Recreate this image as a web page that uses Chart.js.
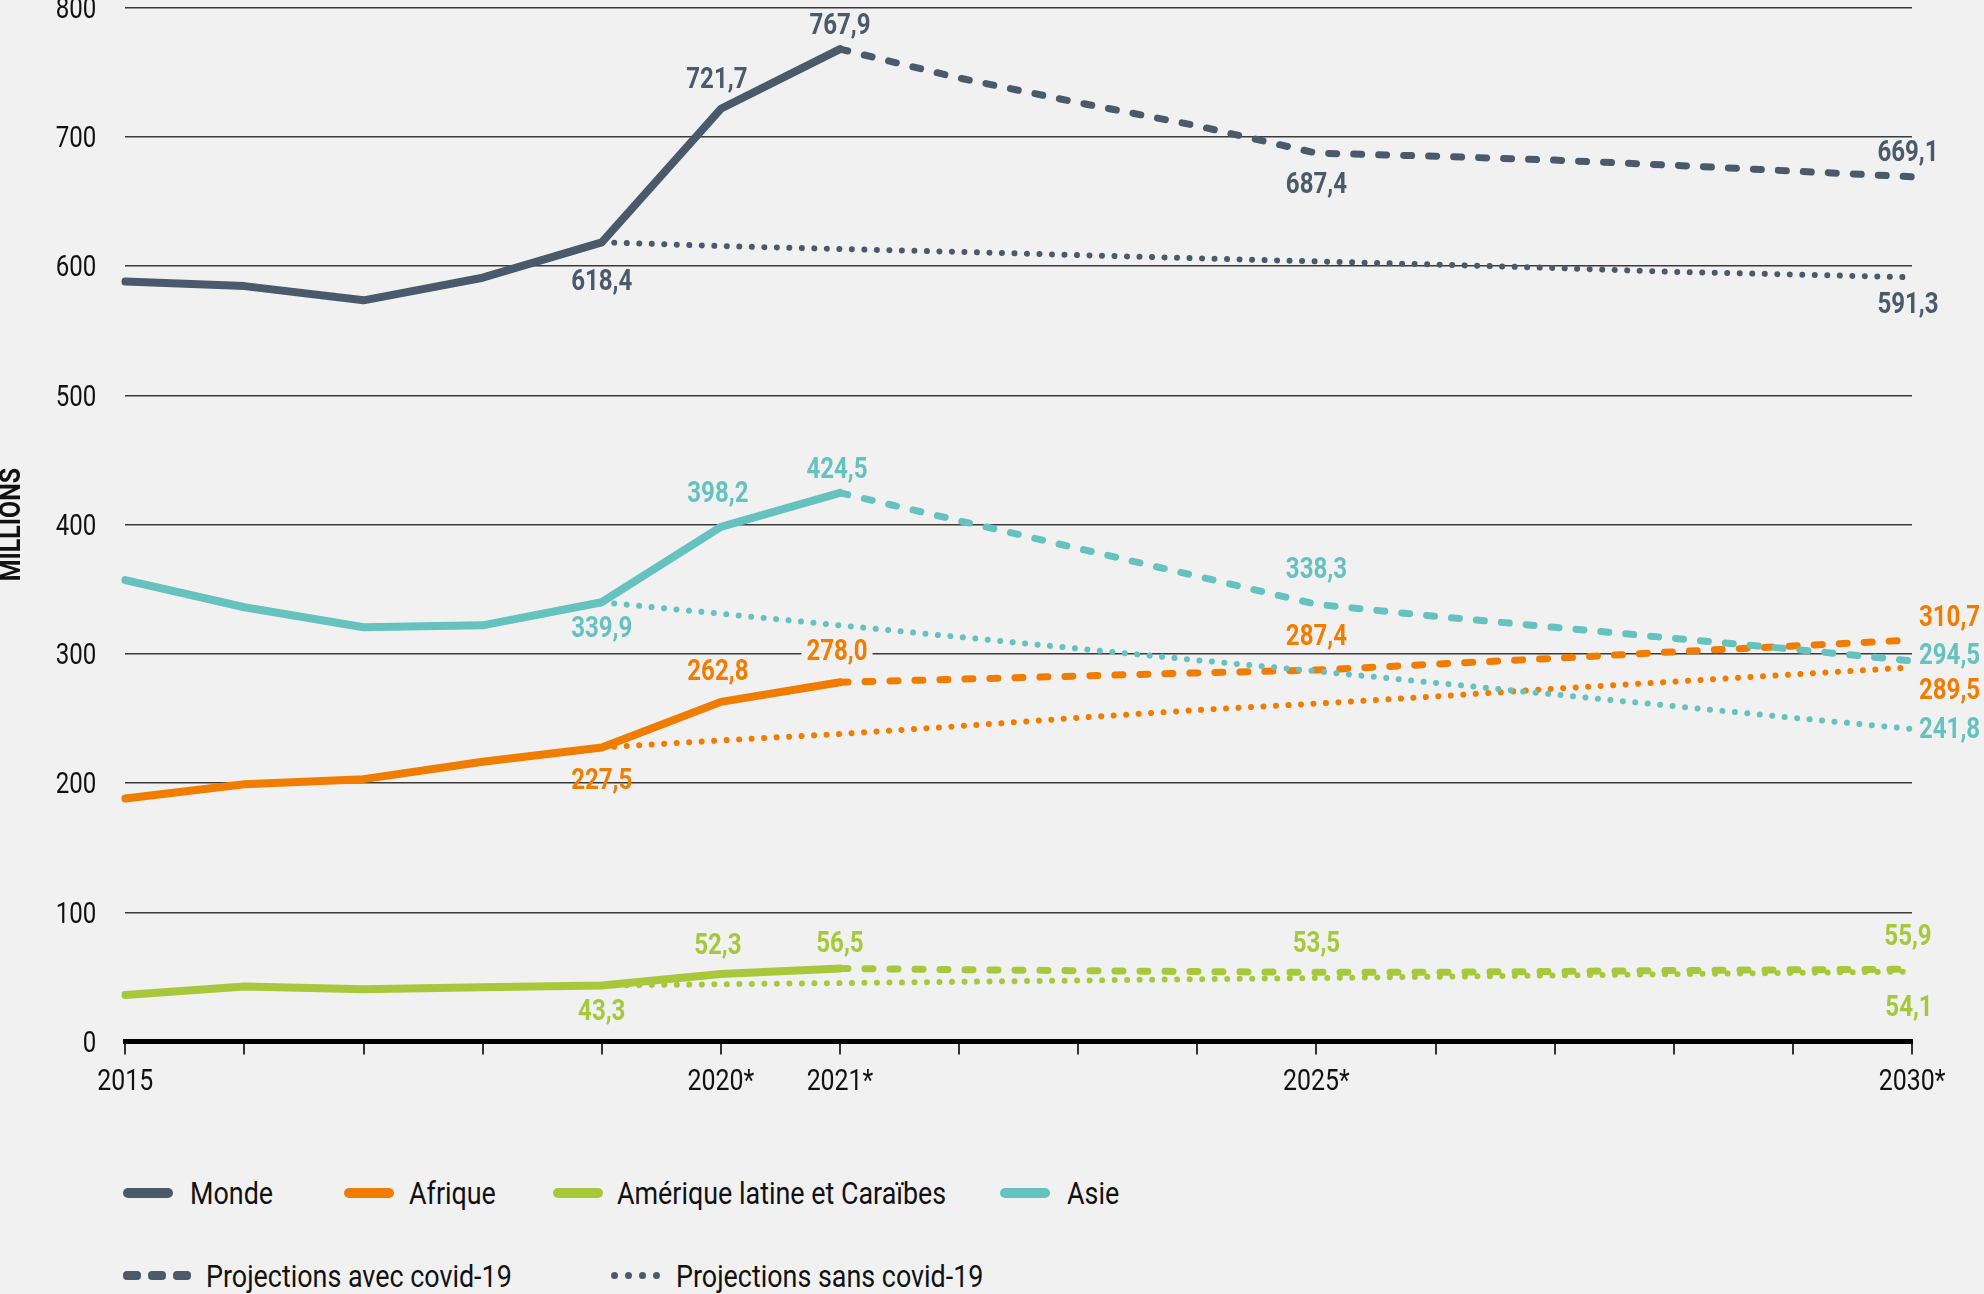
<!DOCTYPE html>
<html>
<head>
<meta charset="utf-8">
<script src="https://cdn.jsdelivr.net/npm/chart.js@4.4.1/dist/chart.umd.min.js"></script>
<style>
html,body{margin:0;padding:0;background:#f1f1f1;width:1984px;height:1294px;overflow:hidden;
  font-family:Roboto,"Liberation Sans",sans-serif;color:#111;}
#wrap{position:absolute;left:0;top:-30px;width:1984px;height:1150px;}
.lg{position:absolute;font-size:32px;line-height:32px;white-space:nowrap;color:#111;transform:scaleX(0.84);transform-origin:0 50%;}
.sw{position:absolute;height:10px;border-radius:5px;}
.dash{position:absolute;height:9px;width:18px;border-radius:4px;background:#4b5a6b;}
.dot{position:absolute;height:7px;width:7px;border-radius:50%;background:#4b5a6b;}
</style>
</head>
<body>
<div id="wrap"><canvas id="c" width="1984" height="1150"></canvas></div>

<div class="sw" style="left:123px;top:1188px;width:50px;background:#4b5a6b"></div>
<div class="lg" style="left:190px;top:1177px">Monde</div>
<div class="sw" style="left:344px;top:1188px;width:50px;background:#f07d00"></div>
<div class="lg" style="left:409px;top:1177px">Afrique</div>
<div class="sw" style="left:553px;top:1188px;width:50px;background:#a9c73a"></div>
<div class="lg" style="left:617px;top:1177px">Amérique latine et Caraïbes</div>
<div class="sw" style="left:1000px;top:1188px;width:50px;background:#66c2be"></div>
<div class="lg" style="left:1067px;top:1177px">Asie</div>

<div class="dash" style="left:123px;top:1271px"></div>
<div class="dash" style="left:148px;top:1271px"></div>
<div class="dash" style="left:173px;top:1271px"></div>
<div class="lg" style="left:206px;top:1260px">Projections avec covid-19</div>
<div class="dot" style="left:611px;top:1272px"></div>
<div class="dot" style="left:625px;top:1272px"></div>
<div class="dot" style="left:639px;top:1272px"></div>
<div class="dot" style="left:653px;top:1272px"></div>
<div class="lg" style="left:676px;top:1260px">Projections sans covid-19</div>

<script>
// ---------- DATA ----------
const years = [2015,2016,2017,2018,2019,2020,2021,2022,2023,2024,2025,2026,2027,2028,2029,2030];
const xTickLabels = ['2015','','','','','2020*','2021*','','','','2025*','','','','','2030*'];
const yTickValues = [0,100,200,300,400,500,600,700,800];

// historical 2015-2021
const mondeHist   = [588, 584.5, 573.5, 591, 618.4, 721.7, 767.9];
const afriqueHist = [188, 199, 203, 216.5, 227.5, 262.8, 278.0];
const amlatHist   = [36, 42.5, 40.5, 42, 43.3, 52.3, 56.5];
const asieHist    = [357, 336, 320.5, 322, 339.9, 398.2, 424.5];

// projections avec covid-19, 2021-2030
const mondeAvec   = [767.9, 745.5, 726.5, 708.5, 687.4, 685, 682, 678, 673.5, 669.1];
const afriqueAvec = [278.0, 280.3, 282.8, 285.2, 287.4, 292, 296.5, 301.5, 306, 310.7];
const amlatAvec   = [56.5, 55.6, 54.8, 54.1, 53.5, 53.6, 54.2, 54.9, 55.5, 55.9];
const asieAvec    = [424.5, 403, 381.5, 360, 338.3, 329, 320.5, 312, 303.5, 294.5];

// projections sans covid-19, 2019-2030
const mondeSans   = [618.4, 615.5, 613.2, 611, 608.5, 606, 603.6, 601.2, 598.5, 595.5, 593.5, 591.3];
const afriqueSans = [227.5, 233, 238, 244, 250.5, 256.5, 261.5, 267, 273, 278.5, 284, 289.5];
const amlatSans   = [43.3, 44.3, 45.2, 46.2, 47.2, 48.2, 49.1, 50.1, 51.1, 52.1, 53.1, 54.1];
const asieSans    = [339.9, 331, 322, 313, 304, 295, 286.5, 277.5, 268.5, 259.5, 250.5, 241.8];

// ---------- STYLE ----------
const FONT = 'Roboto,"Liberation Sans",sans-serif';
const SX = 0.83; // horizontal condensing of canvas text
const COL = {monde:'#4b5a6b', afrique:'#f07d00', amlat:'#a9c73a', asie:'#66c2be'};

const n = years.length;
function hist(a){ return a.concat(Array(n - a.length).fill(null)); }
function tail(a){ return Array(n - a.length).fill(null).concat(a); }

function solid(col, data){ return {data:hist(data), borderColor:col, borderWidth:8, borderCapStyle:'round', borderJoinStyle:'round', pointRadius:0, fill:false, tension:0}; }
function dashed(col, data){ return {data:tail(data), borderColor:col, borderWidth:7, borderDash:[8,17], borderCapStyle:'round', borderJoinStyle:'round', pointRadius:0, fill:false, tension:0}; }
function dotted(col, data){ return {data:tail(data), borderColor:col, borderWidth:6, borderDash:[0.01,12.5], borderCapStyle:'round', borderJoinStyle:'round', pointRadius:0, fill:false, tension:0}; }

const datasets = [
  solid(COL.monde, mondeHist),      // 0
  dashed(COL.monde, mondeAvec),     // 1
  dotted(COL.monde, mondeSans),     // 2
  solid(COL.asie, asieHist),        // 3
  dashed(COL.asie, asieAvec),       // 4
  dotted(COL.asie, asieSans),       // 5
  solid(COL.afrique, afriqueHist),  // 6
  dashed(COL.afrique, afriqueAvec), // 7
  dotted(COL.afrique, afriqueSans), // 8
  solid(COL.amlat, amlatHist),      // 9
  dashed(COL.amlat, amlatAvec),     // 10
  dotted(COL.amlat, amlatSans)      // 11
];

// which points get a value label, and where (offsets in px)
const labelSpecs = [
  {ds:0, year:2019, dx:0, dy:40}, {ds:0, year:2020, dx:-4, dy:-28}, {ds:0, year:2021, dx:0, dy:-22},
  {ds:1, year:2025, dx:0, dy:33}, {ds:1, year:2030, dx:-4, dy:-23}, {ds:2, year:2030, dx:-4, dy:28},
  {ds:3, year:2019, dx:0, dy:28}, {ds:3, year:2020, dx:-3, dy:-32}, {ds:3, year:2021, dx:-3, dy:-22},
  {ds:4, year:2025, dx:0, dy:-34}, {ds:4, year:2030, dx:7, dy:-4, align:'left'}, {ds:5, year:2030, dx:7, dy:2, align:'left'},
  {ds:6, year:2019, dx:0, dy:34}, {ds:6, year:2020, dx:-3, dy:-29}, {ds:6, year:2021, dx:-3, dy:-29, bg:true},
  {ds:7, year:2025, dx:0, dy:-32}, {ds:7, year:2030, dx:7, dy:-21, align:'left'}, {ds:8, year:2030, dx:7, dy:24, align:'left'},
  {ds:9, year:2019, dx:0, dy:27}, {ds:9, year:2020, dx:-3, dy:-27}, {ds:9, year:2021, dx:0, dy:-24},
  {ds:10, year:2025, dx:0, dy:-28}, {ds:10, year:2030, dx:-4, dy:-32}, {ds:11, year:2030, dx:-3, dy:37}
];

const valueLabels = {
  id:'valueLabels',
  afterDatasetsDraw(chart){
    const ctx = chart.ctx, xs = chart.scales.x, ys = chart.scales.y;
    ctx.save();
    ctx.font = 'bold 29px ' + FONT;
    ctx.textBaseline = 'middle';
    for (const L of labelSpecs){
      const ds = chart.data.datasets[L.ds];
      const i = years.indexOf(L.year);
      const v = ds.data[i];
      const x = xs.getPixelForValue(i) + L.dx;
      const y = ys.getPixelForValue(v) + L.dy;
      const txt = v.toFixed(1).replace('.', ',');
      ctx.textAlign = L.align || 'center';
      if (L.bg){
        const w = ctx.measureText(txt).width * SX;
        const x0 = ctx.textAlign === 'left' ? x : x - w/2;
        ctx.fillStyle = '#f1f1f1';
        ctx.fillRect(x0 - 5, y - 14, w + 10, 28);
      }
      ctx.fillStyle = ds.borderColor;
      ctx.fillText(txt, x, y);
    }
    ctx.restore();
  }
};

// condense all canvas text horizontally (the reference uses a condensed face)
const canvas = document.getElementById('c');
const c2d = canvas.getContext('2d');
const origFillText = c2d.fillText.bind(c2d);
c2d.fillText = function(t, x, y, mw){
  this.save();
  this.translate(x, y);
  this.scale(SX, 1);
  if (mw !== undefined && mw !== null) origFillText(t, 0, 0, mw / SX); else origFillText(t, 0, 0);
  this.restore();
};

new Chart(canvas, {
  type:'line',
  data:{ labels: years.map(String), datasets },
  options:{
    responsive:false, animation:false, devicePixelRatio:1,
    layout:{ padding:{ top:37.6, right:72, left:0, bottom:0 } },
    plugins:{ legend:{display:false}, tooltip:{enabled:false} },
    scales:{
      x:{
        type:'category', offset:false,
        grid:{ display:true, drawOnChartArea:false, drawTicks:true, tickLength:13, color:'#333', lineWidth:2 },
        border:{ display:true, color:'#000', width:5 },
        ticks:{ autoSkip:false, maxRotation:0, minRotation:0, padding:10, color:'#111',
                font:{ family:FONT, size:30 }, callback:(v,i)=>xTickLabels[i] },
        afterFit(s){ s.height = 78.5; s.paddingLeft = 0; s.paddingRight = 0; }
      },
      y:{
        min:0, max:800,
        afterBuildTicks(s){ s.ticks = yTickValues.map(v=>({value:v})); },
        ticks:{ padding:29, labelOffset:3, color:'#111', font:{ family:FONT, size:29 } },
        grid:{ color:'#3a3a3a', lineWidth:1.5, drawTicks:false },
        border:{ display:false },
        title:{ display:true, text:'MILLIONS', color:'#111', padding:0,
                font:{ family:FONT, size:30, weight:'bold', lineHeight:0.85 } },
        afterFit(s){ s.width = 125.3; s.paddingTop = 0; s.paddingBottom = 0; }
      }
    }
  },
  plugins:[valueLabels]
});
</script>
</body>
</html>
